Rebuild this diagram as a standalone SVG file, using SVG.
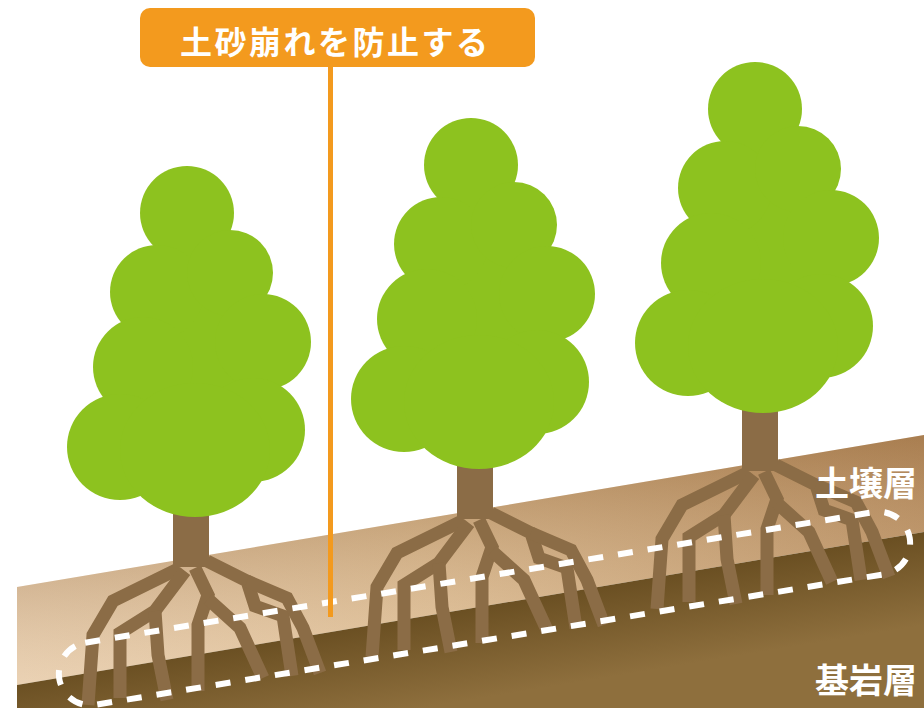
<svg xmlns="http://www.w3.org/2000/svg" width="924" height="708" viewBox="0 0 924 708">
  <style>
    .crown { fill: #8dc21f; }
    .trunk { fill: #8b6c46; }
    .root { fill: none; stroke: #8b6c46; stroke-width: 13; stroke-linejoin: miter; stroke-linecap: butt; }
    .dash { fill: none; stroke: #ffffff; stroke-width: 6; stroke-dasharray: 15 15; }
    .lbl { font-family: "Noto Sans CJK JP", "Noto Sans", sans-serif; font-weight: 700; fill: #ffffff; }
    .orange { fill: #f39a1e; }
  </style>
  <defs>
    <!-- soil: pale on the left, deeper tan towards the right -->
    <linearGradient id="soilBase" gradientUnits="userSpaceOnUse" x1="17" y1="640" x2="924" y2="470">
      <stop offset="0" stop-color="#e7cdae"/>
      <stop offset="0.45" stop-color="#d8b78e"/>
      <stop offset="1" stop-color="#b3885a"/>
    </linearGradient>
    <!-- shading across the soil band, darker near the surface -->
    <linearGradient id="soilShade" gradientUnits="userSpaceOnUse" x1="455" y1="511" x2="471" y2="608">
      <stop offset="0" stop-color="#7a4f22" stop-opacity="0.18"/>
      <stop offset="1" stop-color="#fff0d8" stop-opacity="0.12"/>
    </linearGradient>
    <linearGradient id="rock" gradientUnits="userSpaceOnUse" x1="455" y1="609" x2="470" y2="700">
      <stop offset="0" stop-color="#6a4f22"/>
      <stop offset="1" stop-color="#8e6f3d"/>
    </linearGradient>

    <!-- tree crown, drawn for the left tree -->
    <g id="crown" class="crown">
      <polygon points="187,213 230,273 263,342 253,430 195,450 120,447 143,367 157,292"/>
      <circle cx="187" cy="213" r="47"/>
      <circle cx="157" cy="292" r="47"/>
      <circle cx="230" cy="273" r="43"/>
      <circle cx="143" cy="367" r="50"/>
      <circle cx="263" cy="342" r="48"/>
      <circle cx="120" cy="447" r="53"/>
      <circle cx="253" cy="430" r="52"/>
      <ellipse cx="195" cy="450" rx="75" ry="67"/>
    </g>

    <!-- root system, relative to the trunk base -->
    <g id="roots" class="root">
      <path d="M -11 5 L -78 38 L -98 72 L -103 142"/>
      <path d="M -6 8 L -36 48 L -71 70 L -71 135"/>
      <path d="M -36 48 L -33 92 L -24 137"/>
      <path d="M 4 5 L 17 32 L 7 62 L 7 128"/>
      <path d="M 17 36 L 49 65 L 72 115"/>
      <path d="M 16 -2 L 56 18 L 64 43 L 92 53 L 101 113"/>
      <path d="M 56 18 L 96 35 L 112 65 L 129 110"/>
    </g>
  </defs>

  <!-- ground layers -->
  <g id="ground">
    <polygon id="soil" points="17,587 924,435 924,532 17,685" fill="url(#soilBase)"/>
    <polygon points="17,587 924,435 924,532 17,685" fill="url(#soilShade)"/>
    <polygon id="bedrock" points="17,685 924,532 924,708 17,708" fill="url(#rock)"/>
  </g>

  <!-- trees -->
  <g id="tree-1">
    <use href="#roots" transform="translate(191,563)"/>
    <rect class="trunk" x="173" y="505" width="36" height="62"/>
    <use href="#crown"/>
  </g>
  <g id="tree-2">
    <use href="#roots" transform="translate(475,515)"/>
    <rect class="trunk" x="457" y="457" width="36" height="62"/>
    <use href="#crown" transform="translate(284,-48)"/>
  </g>
  <g id="tree-3">
    <use href="#roots" transform="translate(760,467)"/>
    <rect class="trunk" x="742" y="400" width="36" height="71"/>
    <use href="#crown" transform="translate(568,-104)"/>
  </g>

  <!-- dashed outline around the rooted soil band -->
  <g id="root-zone">
    <rect class="dash" x="53.5" y="577" width="862" height="63" rx="31.5" ry="31.5" transform="rotate(-9.4 484.5 608.5)"/>
  </g>

  <!-- callout -->
  <g id="connectors">
    <line x1="330.5" y1="66" x2="330.5" y2="617" stroke="#f39a1e" stroke-width="5"/>
  </g>
  <g id="callout">
    <rect class="orange" x="140" y="8" width="395" height="59" rx="10" ry="10"/>
    <text class="lbl" x="180" y="54" font-size="32" letter-spacing="2.5">土砂崩れを防止する</text>
  </g>

  <!-- layer names -->
  <g id="layer-labels">
    <text class="lbl" x="815" y="496" font-size="34">土壌層</text>
    <text class="lbl" x="815" y="693" font-size="34">基岩層</text>
  </g>
</svg>
